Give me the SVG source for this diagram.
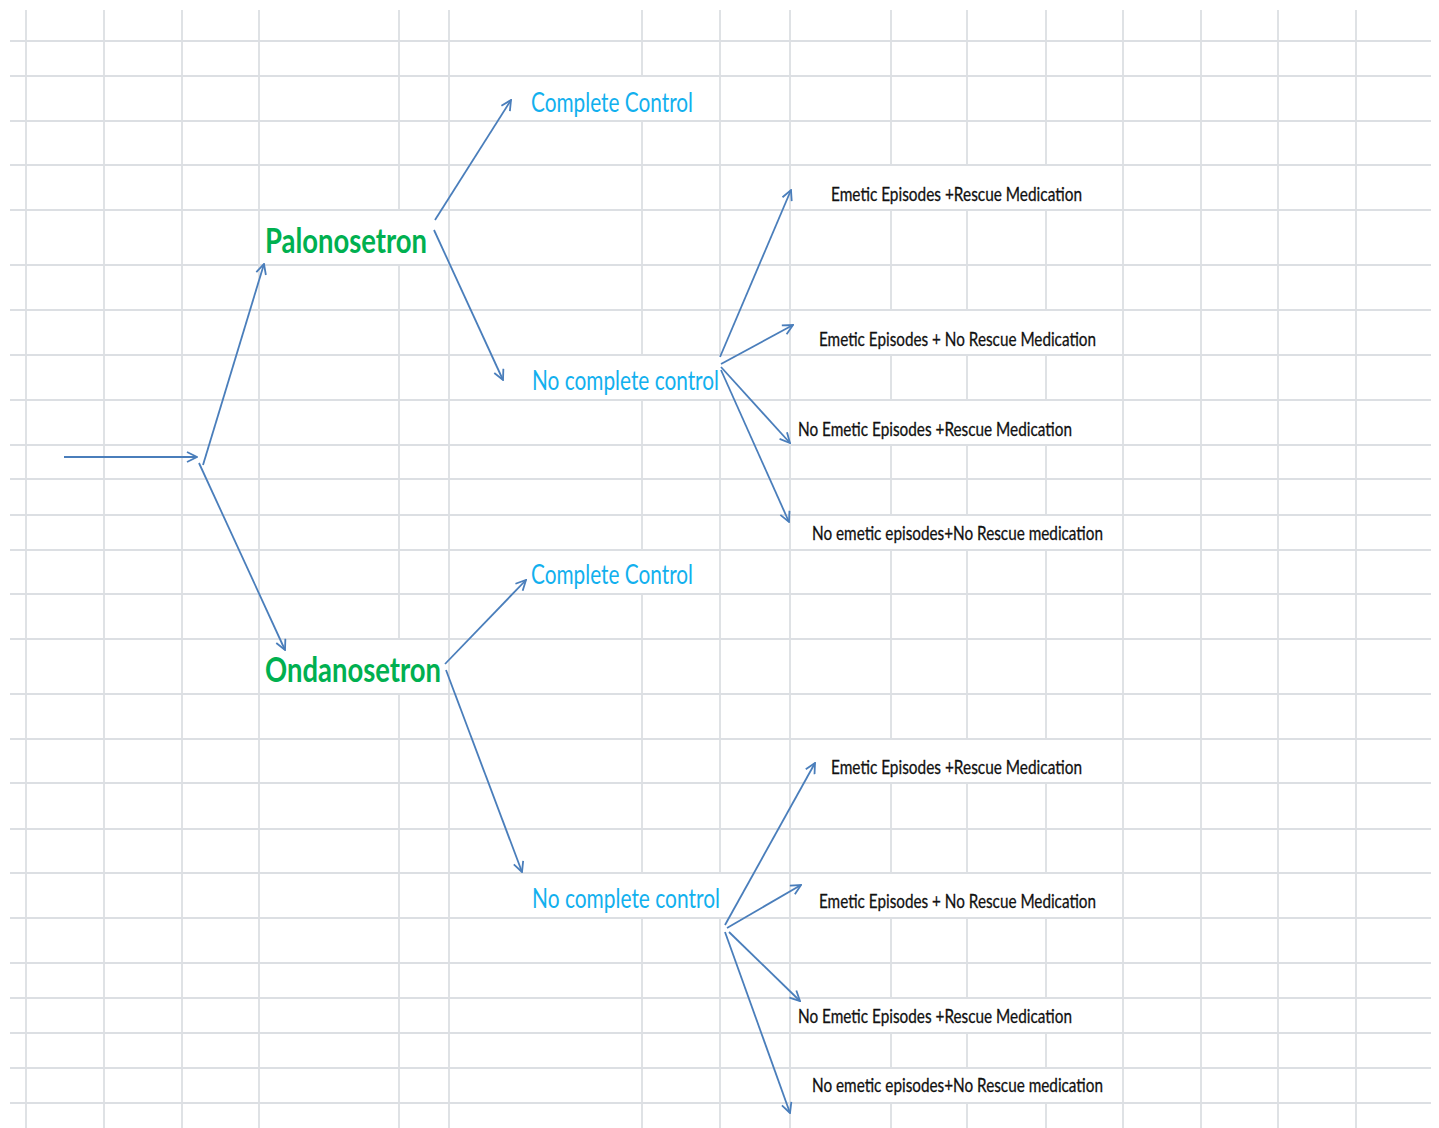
<svg xmlns="http://www.w3.org/2000/svg" width="1439" height="1128" viewBox="0 0 1439 1128">
<defs>
<style>
.grid{stroke:#dcdfe3;stroke-width:1.8;fill:none}
.conn{stroke:#4a7ebb;stroke-width:1.8;fill:none;marker-end:url(#arr)}
.drug{font-family:Lato,"Open Sans","Liberation Sans",sans-serif;font-weight:bold;font-size:34px;fill:#00b050}
.ctl{font-family:Lato,"Open Sans","Liberation Sans",sans-serif;font-size:26px;fill:#12b0ee}
.out{font-family:Lato,"Open Sans","Liberation Sans",sans-serif;font-size:20px;fill:#111111;stroke:#111111;stroke-width:0.3}
</style>
<marker id="arr" viewBox="0 0 12 12" refX="11" refY="6" markerWidth="12" markerHeight="12" markerUnits="userSpaceOnUse" orient="auto">
<path d="M1,1 L11,6 L1,11" fill="none" stroke="#4a7ebb" stroke-width="1.8"/>
</marker>
</defs>
<rect width="1439" height="1128" fill="#ffffff"/>
<g id="grid" class="grid">
<path d="M10 41H1431M10 76H1431M10 121H1431M10 165H1431M10 210H1431M10 265H1431M10 310H1431M10 355H1431M10 400H1431M10 445H1431M10 479H1431M10 515H1431M10 550H1431M10 594H1431M10 639H1431M10 694H1431M10 739H1431M10 783H1431M10 829H1431M10 873H1431M10 918H1431M10 963H1431M10 998H1431M10 1033H1431M10 1068H1431M10 1103H1431"/>
<path d="M26 10V1128M104 10V1128M182 10V1128M259 10V1128M449 10V1128M790 10V1128M1123 10V1128M1201 10V1128M1278 10V1128M1356 10V1128"/>
<path d="M399 10V210M399 265V639M399 694V1128"/>
<path d="M642 10V76M642 121V355M642 400V550M642 594V873M642 918V1128"/>
<path d="M720 10V355M720 400V873M720 918V1128"/>
<path d="M891 10V165M891 210V310M891 355V400M891 445V515M891 550V739M891 783V873M891 918V998M891 1033V1068M891 1103V1128"/>
<path d="M967 10V165M967 210V310M967 355V400M967 445V515M967 550V739M967 783V873M967 918V998M967 1033V1068M967 1103V1128"/>
<path d="M1046 10V165M1046 210V310M1046 355V400M1046 445V515M1046 550V739M1046 783V873M1046 918V998M1046 1033V1068M1046 1103V1128"/>
</g>
<g id="connectors">
<path class="conn" d="M64 457L197 457"/>
<path class="conn" d="M203 465L264 264"/>
<path class="conn" d="M199 463L285 650"/>
<path class="conn" d="M435 220L511 100"/>
<path class="conn" d="M434 230L503 380"/>
<path class="conn" d="M720 357L791 190"/>
<path class="conn" d="M721 364L793 325"/>
<path class="conn" d="M721 367L790 443"/>
<path class="conn" d="M721 370L789 522"/>
<path class="conn" d="M445 664L526 580"/>
<path class="conn" d="M446 670L522 872"/>
<path class="conn" d="M725 925L815 763"/>
<path class="conn" d="M727 928L801 885"/>
<path class="conn" d="M729 932L800 1001"/>
<path class="conn" d="M725 932L790 1113"/>
</g>
<g id="palonosetron"><text class="drug" x="265" y="253" textLength="162" lengthAdjust="spacingAndGlyphs">Palonosetron</text></g>
<g id="ondanosetron"><text class="drug" x="265" y="682" textLength="176" lengthAdjust="spacingAndGlyphs">Ondanosetron</text></g>
<g id="pal-complete"><text class="ctl" x="531" y="112" textLength="162" lengthAdjust="spacingAndGlyphs">Complete Control</text></g>
<g id="pal-nocomplete"><text class="ctl" x="532" y="390" textLength="187" lengthAdjust="spacingAndGlyphs">No complete control</text></g>
<g id="ond-complete"><text class="ctl" x="531" y="584" textLength="162" lengthAdjust="spacingAndGlyphs">Complete Control</text></g>
<g id="ond-nocomplete"><text class="ctl" x="532" y="908" textLength="188" lengthAdjust="spacingAndGlyphs">No complete control</text></g>
<g id="pal-o1"><text class="out" x="831" y="201" textLength="251" lengthAdjust="spacingAndGlyphs">Emetic Episodes +Rescue Medication</text></g>
<g id="pal-o2"><text class="out" x="819" y="346" textLength="277" lengthAdjust="spacingAndGlyphs">Emetic Episodes + No Rescue Medication</text></g>
<g id="pal-o3"><text class="out" x="798" y="436" textLength="274" lengthAdjust="spacingAndGlyphs">No Emetic Episodes +Rescue Medication</text></g>
<g id="pal-o4"><text class="out" x="812" y="540" textLength="291" lengthAdjust="spacingAndGlyphs">No emetic episodes+No Rescue medication</text></g>
<g id="ond-o1"><text class="out" x="831" y="774" textLength="251" lengthAdjust="spacingAndGlyphs">Emetic Episodes +Rescue Medication</text></g>
<g id="ond-o2"><text class="out" x="819" y="908" textLength="277" lengthAdjust="spacingAndGlyphs">Emetic Episodes + No Rescue Medication</text></g>
<g id="ond-o3"><text class="out" x="798" y="1023" textLength="274" lengthAdjust="spacingAndGlyphs">No Emetic Episodes +Rescue Medication</text></g>
<g id="ond-o4"><text class="out" x="812" y="1092" textLength="291" lengthAdjust="spacingAndGlyphs">No emetic episodes+No Rescue medication</text></g>
</svg>
